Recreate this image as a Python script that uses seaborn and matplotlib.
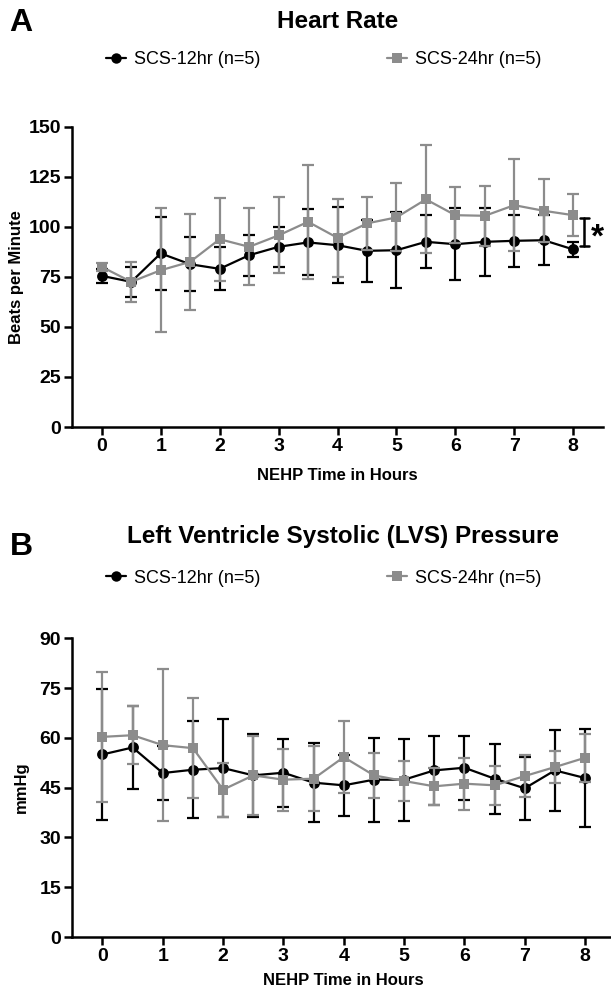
import numpy as np
import pandas as pd
import matplotlib
matplotlib.use('Agg')
import matplotlib.pyplot as plt
import seaborn as sns
from matplotlib.lines import Line2D

# time points (hours)
hours = [0, 0.5, 1, 1.5, 2, 2.5, 3, 3.5, 4, 4.5, 5, 5.5, 6, 6.5, 7, 7.5, 8]

# heart rate, mean and SD
hr_12 = [75.5, 72.5, 86.7, 81.3, 79.0, 85.8, 90.0, 92.2, 90.8, 88.0, 88.3, 92.5, 91.3, 92.5, 93.0, 93.3, 88.7]
hr_12_sd = [3.5, 7.5, 18.3, 13.5, 10.7, 10.2, 10.0, 16.5, 19.0, 15.5, 19.0, 13.3, 18.0, 17.0, 13.0, 12.6, 3.7]
hr_24 = [80.0, 72.5, 78.3, 82.5, 93.8, 90.0, 95.7, 102.5, 94.5, 101.7, 104.7, 113.7, 105.8, 105.5, 110.8, 108.0, 105.8]
hr_24_sd = [2.0, 10.0, 31.0, 24.0, 20.7, 19.2, 19.0, 28.5, 19.5, 13.3, 17.0, 27.0, 14.0, 15.0, 23.0, 15.7, 10.5]

# LV systolic pressure, mean and SD
lvs_12 = [55.0, 57.1, 49.4, 50.4, 50.9, 48.7, 49.5, 46.5, 45.7, 47.4, 47.4, 50.2, 51.0, 47.7, 44.8, 50.2, 47.9]
lvs_12_sd = [19.8, 12.4, 8.0, 14.6, 14.8, 12.6, 10.2, 12.0, 9.1, 12.6, 12.4, 10.4, 9.7, 10.6, 9.5, 12.3, 14.8]
lvs_24 = [60.3, 60.8, 57.8, 56.9, 44.4, 48.7, 47.4, 47.7, 54.2, 48.7, 47.0, 45.4, 46.2, 45.7, 48.5, 51.2, 54.0]
lvs_24_sd = [19.5, 8.7, 22.9, 15.0, 8.1, 12.0, 9.3, 9.7, 10.8, 6.7, 6.0, 5.5, 7.8, 5.8, 6.3, 4.8, 7.3]

groups = ['SCS-12hr (n=5)', 'SCS-24hr (n=5)']
colors = {'SCS-12hr (n=5)': '#000000', 'SCS-24hr (n=5)': '#8c8c8c'}
markers = {'SCS-12hr (n=5)': 'o', 'SCS-24hr (n=5)': 's'}

sns.set_style('ticks', {'axes.edgecolor': 'black', 'text.color': 'black',
                        'xtick.color': 'black', 'ytick.color': 'black',
                        'axes.labelcolor': 'black'})
plt.rcParams['font.family'] = ['Liberation Sans', 'DejaVu Sans']

W, H = 611, 988
fig = plt.figure(figsize=(W / 100, H / 100), dpi=100)


def px_axes(left, top, right, bottom):
    return fig.add_axes([left / W, 1 - bottom / H, (right - left) / W, (bottom - top) / H])


def draw_panel(ax, means, sds, ylim, yticks, ylabel, ylab_x, xlab_y):
    for i, g in enumerate(groups):
        c = colors[g]
        ax.errorbar(hours, means[g], yerr=sds[g], fmt='none', ecolor=c,
                    elinewidth=1.6, capsize=4.5, capthick=1.6, zorder=2 + 2 * i)
        df = pd.DataFrame({'time': hours, 'value': means[g]})
        sns.lineplot(data=df, x='time', y='value', color=c, marker=markers[g],
                     markersize=7.8, markeredgewidth=0, linewidth=1.6,
                     ax=ax, zorder=3 + 2 * i)
    ax.set_xlim(-0.5, 8.5)
    ax.set_ylim(*ylim)
    ax.set_xticks(range(0, 9))
    ax.set_yticks(yticks)
    sns.despine(ax=ax)
    for s in ['left', 'bottom']:
        ax.spines[s].set_linewidth(1.8)
    ax.tick_params(width=1.8, length=6, labelsize=14, pad=2)
    plt.setp(ax.get_xticklabels(), fontweight='bold')
    plt.setp(ax.get_yticklabels(), fontweight='bold')
    ax.set_xlabel('NEHP Time in Hours', fontsize=12, fontweight='bold')
    ax.set_ylabel(ylabel, fontsize=12, fontweight='bold')
    ax.xaxis.set_label_coords(0.5, xlab_y)
    ax.xaxis.label.set_va('center')
    ax.yaxis.set_label_coords(ylab_x, 0.5)
    ax.yaxis.label.set_va('center')


def add_legend(y_px):
    handles = [Line2D([], [], color=colors[g], marker=markers[g], markersize=7.5,
                      markeredgewidth=0, linewidth=1.6) for g in groups]
    fig.legend(handles, groups, loc='center left', bbox_to_anchor=(106 / W, 1 - y_px / H),
               ncol=2, frameon=False, fontsize=13, handlelength=1.1, handletextpad=0.45,
               columnspacing=7.0, borderpad=0, borderaxespad=0)


# Panel A
axA = px_axes(72.3, 126.7, 602.7, 427)
draw_panel(axA, {groups[0]: hr_12, groups[1]: hr_24}, {groups[0]: hr_12_sd, groups[1]: hr_24_sd},
           (0, 150), range(0, 151, 25), 'Beats per Minute', -0.105, -0.16)

# significance bracket at the last time point
x_br = hours[-1] + 0.19
y_lo = hr_12[-1] + 1.5
y_hi = hr_24[-1] - 1.5
axA.plot([x_br, x_br], [y_lo, y_hi], color='black', lw=1.8, clip_on=False)
axA.plot([x_br - 0.08, x_br + 0.08], [y_lo, y_lo], color='black', lw=1.8, clip_on=False)
axA.plot([x_br - 0.08, x_br + 0.08], [y_hi, y_hi], color='black', lw=1.8, clip_on=False)
axA.text(x_br + 0.11, (y_lo + y_hi) / 2 - 3, '*', fontsize=24, fontweight='bold',
         ha='left', va='center', clip_on=False)

fig.text(21 / W, 1 - 23 / H, 'A', fontsize=23, fontweight='bold', ha='center', va='center')
fig.text(338 / W, 1 - 22 / H, 'Heart Rate', fontsize=17.5, fontweight='bold', ha='center', va='center')
add_legend(60)

# Panel B
axB = px_axes(72.3, 638.3, 615.2, 937)
draw_panel(axB, {groups[0]: lvs_12, groups[1]: lvs_24}, {groups[0]: lvs_12_sd, groups[1]: lvs_24_sd},
           (0, 90), range(0, 91, 15), 'mmHg', -0.093, -0.145)

fig.text(21 / W, 1 - 547 / H, 'B', fontsize=23, fontweight='bold', ha='center', va='center')
fig.text(343 / W, 1 - 536 / H, 'Left Ventricle Systolic (LVS) Pressure', fontsize=17.5,
         fontweight='bold', ha='center', va='center')
add_legend(578)

fig.savefig('out.png', dpi=100, facecolor='white')
